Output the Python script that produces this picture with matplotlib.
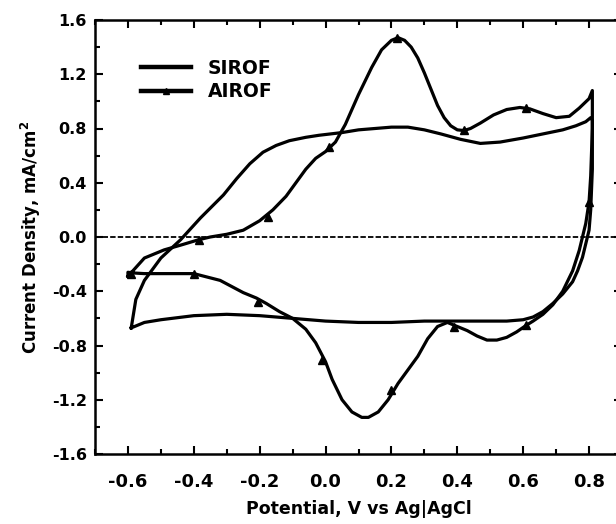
import matplotlib
matplotlib.use("Agg")
import matplotlib.pyplot as plt
from matplotlib.ticker import MultipleLocator, FixedLocator
from matplotlib.lines import Line2D

plt.rcParams['font.family'] = ['DejaVu Sans']
plt.rcParams['font.weight'] = 'bold'
plt.rcParams['axes.unicode_minus'] = False
plt.rcParams['mathtext.default'] = 'bf'

# SIROF closed loop (anodic sweep, vertical return, cathodic sweep)
sirof_V = [-0.59, -0.576, -0.55, -0.50, -0.44, -0.38, -0.31, -0.27, -0.23, -0.19, -0.15, -0.11, -0.06, -0.02,
           0.05, 0.10, 0.15, 0.20, 0.25, 0.30, 0.35, 0.41, 0.47, 0.53, 0.60, 0.66, 0.72, 0.76, 0.79, 0.805,
           0.81, 0.81, 0.805, 0.80, 0.79, 0.78, 0.765, 0.75, 0.72, 0.69, 0.66, 0.63, 0.60, 0.55,
           0.50, 0.40, 0.30, 0.20, 0.10, 0.0, -0.10, -0.20, -0.30, -0.40, -0.50, -0.55, -0.59]
sirof_I = [-0.67, -0.46, -0.32, -0.155, -0.02, 0.14, 0.31, 0.43, 0.54, 0.625, 0.675, 0.71, 0.735, 0.75,
           0.77, 0.79, 0.80, 0.81, 0.81, 0.79, 0.76, 0.72, 0.69, 0.70, 0.73, 0.76, 0.79, 0.82, 0.85, 0.88,
           0.86, 0.50, 0.20, 0.05, -0.05, -0.15, -0.25, -0.33, -0.42, -0.49, -0.55, -0.59, -0.61, -0.62,
           -0.62, -0.62, -0.62, -0.63, -0.63, -0.62, -0.60, -0.58, -0.57, -0.58, -0.61, -0.63, -0.67]

# AIROF closed loop
airof_V = [-0.60, -0.55, -0.49, -0.44, -0.385, -0.35, -0.30, -0.25, -0.20, -0.16,
           -0.12, -0.09, -0.06, -0.03, 0.0, 0.03, 0.06, 0.10, 0.14, 0.17, 0.20, 0.22, 0.24, 0.26, 0.28,
           0.30, 0.32, 0.34, 0.36, 0.38, 0.40, 0.42, 0.44, 0.47, 0.51, 0.55, 0.59, 0.62, 0.66, 0.70,
           0.74, 0.77, 0.80, 0.81,
           0.81, 0.805, 0.80, 0.79, 0.78, 0.77, 0.75, 0.72, 0.69, 0.66, 0.63, 0.61, 0.58, 0.55, 0.52,
           0.49, 0.46, 0.43, 0.40, 0.37, 0.34, 0.31, 0.28, 0.25, 0.22, 0.19, 0.16, 0.13, 0.11, 0.08,
           0.05, 0.02, 0.0, -0.03, -0.06, -0.10, -0.14, -0.18, -0.21, -0.25, -0.32, -0.40,
           -0.45, -0.50, -0.55, -0.585, -0.60, -0.60]
airof_I = [-0.29, -0.155, -0.095, -0.06, -0.02, 0.0, 0.02, 0.05, 0.12, 0.20,
           0.30, 0.40, 0.50, 0.58, 0.63, 0.70, 0.83, 1.05, 1.25, 1.38, 1.45, 1.47, 1.45, 1.40, 1.32,
           1.21, 1.09, 0.97, 0.88, 0.82, 0.79, 0.785, 0.80, 0.84, 0.90, 0.94, 0.955, 0.945, 0.91, 0.88,
           0.89, 0.95, 1.02, 1.08,
           0.80, 0.45, 0.26, 0.10, 0.0, -0.10, -0.25, -0.40, -0.50, -0.57, -0.62, -0.65, -0.70, -0.74, -0.76,
           -0.76, -0.73, -0.69, -0.66, -0.63, -0.66, -0.75, -0.88, -0.98, -1.08, -1.20, -1.29, -1.33, -1.33, -1.29,
           -1.20, -1.05, -0.92, -0.78, -0.68, -0.60, -0.55, -0.49, -0.45, -0.41, -0.32, -0.27,
           -0.27, -0.27, -0.27, -0.265, -0.26, -0.29]

# AIROF triangle markers
mark_V = [-0.385, -0.176, 0.01, 0.218, 0.42, 0.61, 0.80, 0.61, 0.39, 0.20, -0.01, -0.206, -0.40, -0.59]
mark_I = [-0.02, 0.15, 0.66, 1.47, 0.79, 0.95, 0.26, -0.65, -0.66, -1.13, -0.91, -0.48, -0.27, -0.27]

x_ticks = [-0.6, -0.4, -0.2, 0.0, 0.2, 0.4, 0.6, 0.8]
y_ticks = [-1.6, -1.2, -0.8, -0.4, 0.0, 0.4, 0.8, 1.2, 1.6]

fig = plt.figure(figsize=(6.16, 5.24), dpi=100)
ax = fig.add_axes([95/616, 1-454/524, 527/616, 434/524])

ax.axhline(0, color='black', lw=1.3, ls=(0, (3, 1.2)), zorder=1)
ax.plot(sirof_V, sirof_I, color='black', lw=2.3, solid_joinstyle='round', zorder=3)
ax.plot(airof_V, airof_I, color='black', lw=2.3, solid_joinstyle='round', zorder=3)
ax.plot(mark_V, mark_I, ls='none', marker='^', ms=5.5, color='black', zorder=4)

ax.set_xlim(-0.7, 0.9)
ax.set_ylim(-1.6, 1.6)
ax.xaxis.set_major_locator(FixedLocator(x_ticks))
ax.xaxis.set_minor_locator(MultipleLocator(0.1))
ax.yaxis.set_major_locator(FixedLocator(y_ticks))
ax.yaxis.set_minor_locator(MultipleLocator(0.2))
ax.set_xticklabels([f"{v:.1f}" for v in x_ticks])
ax.set_yticklabels([f"{v:.1f}" for v in y_ticks])
ax.tick_params(which='both', direction='in', top=True, right=True, width=1.5)
ax.tick_params(axis='x', labelsize=13, pad=14)
ax.tick_params(axis='y', labelsize=11.5, pad=6)
ax.tick_params(which='major', length=6)
ax.tick_params(which='minor', length=3.5)
for s in ax.spines.values():
    s.set_linewidth(1.8)

ax.set_xlabel('Potential, V vs Ag|AgCl', fontsize=12.5, fontweight='bold', labelpad=6)
ax.set_ylabel('Current Density, mA/cm$^2$', fontsize=12, fontweight='bold', labelpad=6)

handles = [Line2D([], [], color='black', lw=3.2),
           Line2D([], [], color='black', lw=3.2, marker='^', ms=5)]
ax.legend(handles, ['SIROF', 'AIROF'], loc='upper left', bbox_to_anchor=(0.055, 0.95),
          frameon=False, fontsize=13.5, handlelength=2.7, handletextpad=0.85, labelspacing=0.25)

fig.savefig('out.png', dpi=100)
